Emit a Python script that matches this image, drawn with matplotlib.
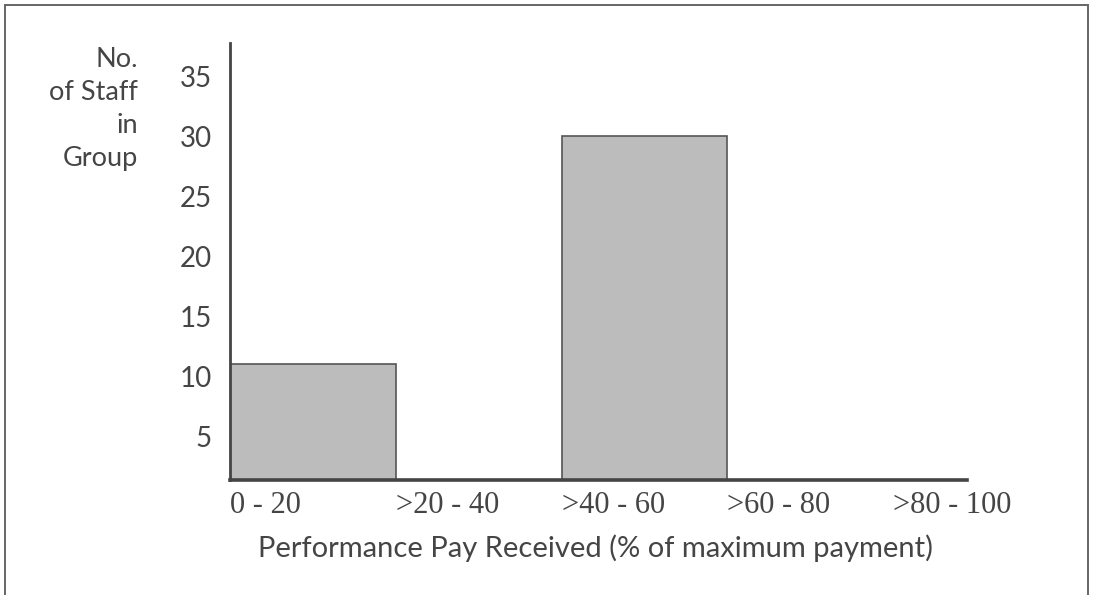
import matplotlib
matplotlib.use("Agg")
import matplotlib.pyplot as plt
from matplotlib.patches import Rectangle

# Data
categories = ["0 - 20", ">20 - 40", ">40 - 60", ">60 - 80", ">80 - 100"]
staff_counts = [11, 0, 30, 0, 0]
y_ticks = [5, 10, 15, 20, 25, 30, 35]

text_color = "#454545"
sans = "Lato"
serif = "Liberation Serif"

fig = plt.figure(figsize=(10.96, 5.95), dpi=100)
fig.patch.set_facecolor("white")

# outer frame round the chart (bottom runs off the page)
fig.patches.append(Rectangle((5 / 1096, -0.05), 1083 / 1096, 1.05 - 5 / 595,
                             transform=fig.transFigure, fill=False,
                             edgecolor="#666666", linewidth=1.4))

ax = fig.add_axes([230 / 1096, 1 - 480 / 595, (967 - 230) / 1096, (480 - 43) / 595])

x = list(range(len(categories)))
bars = [(xi, v) for xi, v in zip(x, staff_counts) if v > 0]
ax.bar([b[0] for b in bars], [b[1] for b in bars], width=1.0, align="edge",
       color="#bcbcbc", edgecolor="#555555", linewidth=1.2, zorder=2)

# the original axis does not start at zero: its baseline sits a little above 0
ax.set_xlim(0, 4.445)
ax.set_ylim(1.33, 37.8)

for side in ["top", "right"]:
    ax.spines[side].set_visible(False)
ax.spines["left"].set_color("#444444")
ax.spines["left"].set_linewidth(2.0)
ax.spines["bottom"].set_color("#444444")
ax.spines["bottom"].set_linewidth(2.6)
ax.spines["bottom"].set_zorder(3)

ax.set_yticks(y_ticks)
ax.set_yticklabels([str(t) for t in y_ticks], fontfamily=sans, fontsize=20,
                   color=text_color)
ax.tick_params(axis="y", length=0, pad=13)

ax.set_xticks(x)
ax.set_xticklabels(categories, fontfamily=serif, fontsize=22, color=text_color,
                   ha="left")
ax.tick_params(axis="x", length=0, pad=8)

fig.text(596 / 1096, 1 - 548 / 595, "Performance Pay Received (% of maximum payment)",
         fontfamily=sans, fontsize=21, color=text_color, ha="center", va="center")

fig.text(138 / 1096, 1 - 47 / 595, "No.\nof Staff\nin\nGroup",
         fontfamily=sans, fontsize=19.5, color=text_color, ha="right", va="top",
         multialignment="right", linespacing=1.4)

fig.savefig("out.png", dpi=100, facecolor="white")
